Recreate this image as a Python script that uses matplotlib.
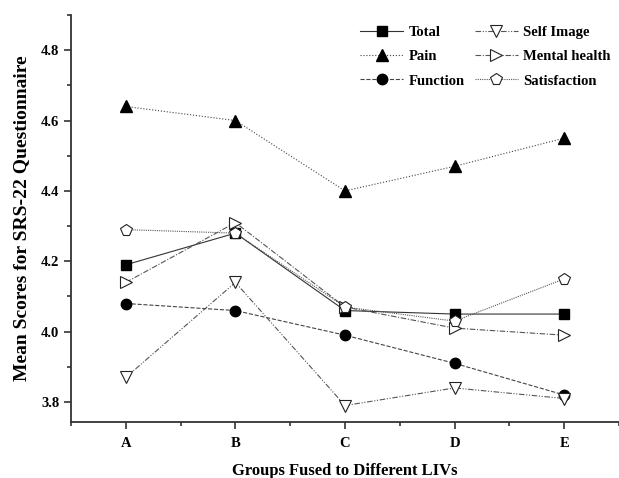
import numpy as np
import matplotlib
matplotlib.use("Agg")
import matplotlib.pyplot as plt
from matplotlib.ticker import MultipleLocator

plt.rcParams['font.family'] = ['Liberation Serif', 'DejaVu Serif']
plt.rcParams['font.weight'] = 'bold'

groups = ['A', 'B', 'C', 'D', 'E']
total = [4.19, 4.28, 4.06, 4.05, 4.05]
pain = [4.64, 4.60, 4.40, 4.47, 4.55]
function = [4.08, 4.06, 3.99, 3.91, 3.82]
self_image = [3.87, 4.14, 3.79, 3.84, 3.81]
mental = [4.14, 4.31, 4.07, 4.01, 3.99]
satisfaction = [4.29, 4.28, 4.07, 4.03, 4.15]

x = np.arange(1, len(groups) + 1)

fig = plt.figure(figsize=(6.19, 4.78), dpi=100)
ax = fig.add_axes([0.1147, 0.117, 0.8853, 0.8516])

lw = 0.8
ms = 7.5
h1, = ax.plot(x, total, '-', color='#333333', lw=lw, marker='s', ms=ms,
              mfc='black', mec='black', label='Total')
h2, = ax.plot(x, pain, ':', color='#444444', lw=lw, marker='^', ms=ms + 1,
              mfc='black', mec='black', label='Pain')
h3, = ax.plot(x, function, '--', color='#444444', lw=lw, marker='o', ms=ms,
              mfc='black', mec='black', label='Function')
h4, = ax.plot(x, self_image, linestyle=(0, (5, 1.5, 1, 1.5, 1, 1.5)), color='#555555',
              lw=lw, marker='v', ms=ms + 1, mfc='white', mec='#222222', mew=0.8,
              label='Self Image')
h5, = ax.plot(x, mental, linestyle=(0, (5, 1.5, 1, 1.5)), color='#555555', lw=lw,
              marker='>', ms=ms + 1, mfc='white', mec='#222222', mew=0.8,
              label='Mental health')
h6, = ax.plot(x, satisfaction, linestyle=(0, (1, 1)), color='#555555', lw=lw,
              marker='p', ms=ms + 1, mfc='white', mec='#222222', mew=0.8,
              label='Satisfaction')

ax.set_xlim(0.5, 5.5)
ax.set_ylim(3.743, 4.90)
ax.set_xticks(x)
ax.set_xticklabels(groups)
ax.xaxis.set_minor_locator(MultipleLocator(0.5))
ax.yaxis.set_minor_locator(MultipleLocator(0.1))
ax.set_yticks([3.8, 4.0, 4.2, 4.4, 4.6, 4.8])

for s in ['top', 'right']:
    ax.spines[s].set_visible(False)
for s in ['left', 'bottom']:
    ax.spines[s].set_linewidth(1.3)
    ax.spines[s].set_color('#333333')

ax.tick_params(which='major', direction='out', length=5, width=1.2, labelsize=10.5,
               color='#333333')
ax.tick_params(which='minor', direction='out', length=3, width=1.2, color='#333333')
ax.tick_params(axis='x', which='major', pad=6)
for lab in ax.get_xticklabels() + ax.get_yticklabels():
    lab.set_fontweight('bold')

ax.set_xlabel('Groups Fused to Different LIVs', fontsize=12, fontweight='bold', labelpad=9)
ax.set_ylabel('Mean Scores for SRS-22 Questionnaire', fontsize=14, fontweight='bold',
              labelpad=8)

leg = ax.legend(handles=[h1, h2, h3, h4, h5, h6], ncol=2, loc='upper right',
                bbox_to_anchor=(1.0, 0.995), frameon=False, fontsize=10.5,
                handlelength=2.95, columnspacing=0.7, handletextpad=0.35,
                labelspacing=0.76, borderaxespad=0.2)
for t in leg.get_texts():
    t.set_fontweight('bold')

fig.savefig('out.png', dpi=100)
